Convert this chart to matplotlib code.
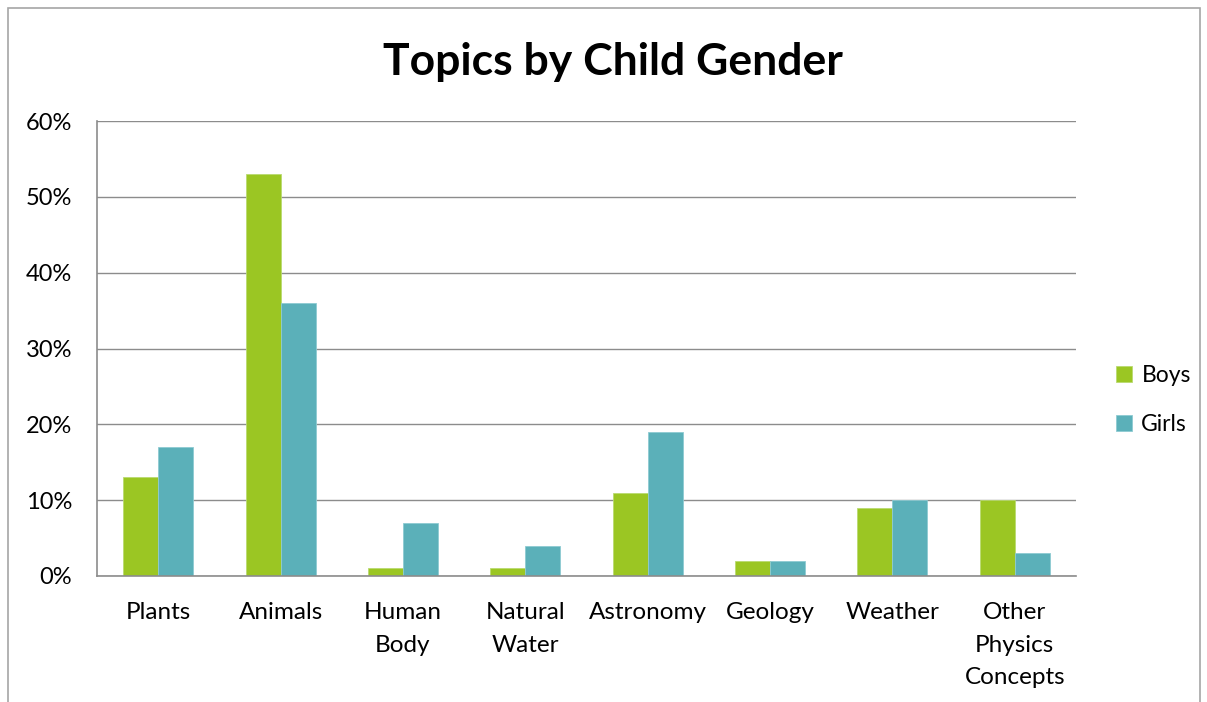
import matplotlib
matplotlib.use("Agg")
import matplotlib.pyplot as plt
import numpy as np
from matplotlib.patches import Rectangle

categories = ["Plants", "Animals", "Human\nBody", "Natural\nWater", "Astronomy",
              "Geology", "Weather", "Other\nPhysics\nConcepts"]
boys = [13, 53, 1, 1, 11, 2, 9, 10]
girls = [17, 36, 7, 4, 19, 2, 10, 3]
yticks = [0, 10, 20, 30, 40, 50, 60]

plt.rcParams['font.family'] = ['Lato', 'DejaVu Sans']

fig = plt.figure(figsize=(12.07, 7.02), dpi=100)
# outer chart border
fig.patches.append(Rectangle((8/1207, -0.05), 1192/1207, 1 - 8/702 + 0.05,
                             transform=fig.transFigure, fill=False,
                             edgecolor='#A6A6A6', linewidth=1.2))

ax = fig.add_axes([97/1207, 1 - 576/702, (1076 - 97)/1207, (576 - 121)/702])
x = np.arange(len(categories))
w = 0.286
green = '#9BC623'
teal = '#5BB0B9'
ax.bar(x - w/2, boys, width=w, color=green, edgecolor='#B9DA70', linewidth=0.6, label='Boys')
ax.bar(x + w/2, girls, width=w, color=teal, edgecolor='#8ECBD2', linewidth=0.6, label='Girls')

ax.set_xlim(-0.5, len(categories) - 0.5)
ax.set_ylim(0, 60)
ax.set_yticks(yticks)
ax.set_yticklabels([f"{v}%" for v in yticks], fontsize=17)
ax.set_xticks(x)
ax.set_xticklabels(categories, fontsize=17.5, linespacing=1.7, va='top')
ax.tick_params(axis='both', length=0)
ax.tick_params(axis='x', pad=18.5)
ax.tick_params(axis='y', pad=18)
ax.yaxis.grid(True, color='#8C8C8C', linewidth=1.0)
ax.set_axisbelow(True)
for s in ['top', 'right']:
    ax.spines[s].set_visible(False)
for s in ['left', 'bottom']:
    ax.spines[s].set_color('#8C8C8C')
    ax.spines[s].set_linewidth(1.2)

fig.text(613/1207, 1 - 62/702, "Topics by Child Gender", ha='center', va='center',
         fontsize=32, fontweight='bold')

leg = fig.legend(loc='center left', bbox_to_anchor=(1107/1207, 1 - 400/702), frameon=False,
                 fontsize=16.5, handlelength=0.7, handleheight=0.7, handletextpad=0.4,
                 labelspacing=1.2, borderaxespad=0)

fig.savefig("out.png", dpi=100)
